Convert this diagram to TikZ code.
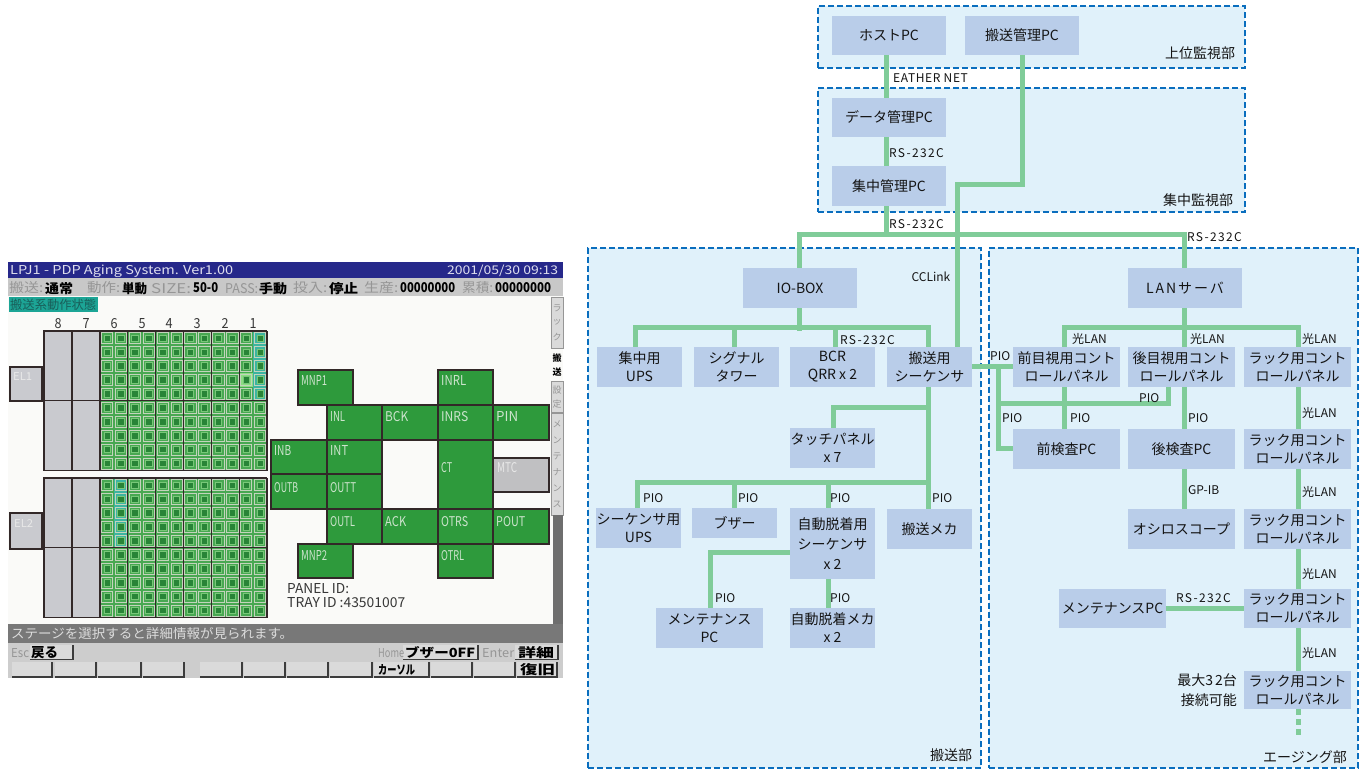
\documentclass[tikz,border=0pt]{standalone}
\usepackage{fontspec}
\usepackage{graphicx}
\setmainfont{Noto Sans CJK JP}
\setsansfont{Noto Sans CJK JP}
\newfontfamily\lsA[LetterSpace=11]{Noto Sans CJK JP}
\newfontfamily\lsB[LetterSpace=14]{Noto Sans CJK JP}
\newfontfamily\lsC[LetterSpace=5]{Noto Sans CJK JP}
\pgfdeclarelayer{back}
\pgfdeclarelayer{mid}
\pgfsetlayers{back,mid,main}
\definecolor{wirec}{RGB}{128,204,153}
\definecolor{boxc}{RGB}{185,205,233}
\definecolor{secf}{RGB}{224,241,250}
\definecolor{secb}{RGB}{10,110,190}
\definecolor{txtc}{RGB}{20,20,20}
\definecolor{navyc}{RGB}{38,40,138}
\definecolor{titc}{RGB}{222,222,238}
\definecolor{sbar}{RGB}{200,200,200}
\definecolor{lgray}{RGB}{150,150,150}
\definecolor{tealc}{RGB}{28,165,150}
\definecolor{tealt}{RGB}{25,95,90}
\definecolor{stg}{RGB}{46,154,60}
\definecolor{stt}{RGB}{205,228,205}
\definecolor{cellg}{RGB}{72,168,82}
\definecolor{celld}{RGB}{40,132,55}
\definecolor{cellhi}{RGB}{120,200,120}
\definecolor{cellln}{RGB}{195,212,188}
\definecolor{tealg}{RGB}{60,180,160}
\definecolor{brightg}{RGB}{140,220,130}
\definecolor{blkc}{RGB}{201,202,207}
\definecolor{edgec}{RGB}{50,40,40}
\definecolor{msgc}{RGB}{120,120,120}
\definecolor{msgt}{RGB}{220,220,220}
\definecolor{btnbg}{RGB}{205,205,205}
\definecolor{btnf}{RGB}{218,218,218}
\definecolor{btnd}{RGB}{60,60,60}
\definecolor{scrw}{RGB}{250,250,248}
\definecolor{elc}{RGB}{232,232,232}
\definecolor{idc}{RGB}{55,55,55}
\definecolor{mtcc}{RGB}{192,192,194}
\definecolor{darkst}{RGB}{110,110,110}
\newcommand\sctext[7]{\node[inner sep=0pt,anchor=base west,text=#6] (#7) at (#1,#2) {\resizebox{#3pt}{#4pt}{#5}};}
\tikzset{
  bx/.style={fill=boxc, inner sep=0pt, align=center, text=txtc, font=\fontsize{14}{18}\selectfont},
  sec/.style={draw=secb, fill=secf, line width=2pt, dash pattern=on 6pt off 3pt, inner sep=0pt},
  wire/.style={draw=wirec, line width=5pt, line cap=rect},
  lab/.style={inner sep=0pt, anchor=west, text=txtc, font=\fontsize{12}{14}\selectfont},
  seclab/.style={inner sep=0pt, text=txtc, font=\fontsize{14}{16}\selectfont},
  stn/.style={fill=stg, draw=edgec, line width=1.2pt},
  edgeln/.style={draw=edgec, line width=1.2pt},
  btnface/.style={fill=btnf, draw=none},
  btnsh/.style={draw=btnd, line width=1.2pt},
  strip/.style={inner sep=0pt, font=\fontsize{9}{9}\selectfont}
}
\begin{document}
\begin{tikzpicture}[x=1pt,y=-1pt]
\useasboundingbox (0,0) rectangle (1366,770);

% ---------------- sections
\begin{pgfonlayer}{back}
\fill[white] (0,0) rectangle (1366,770);
\node[sec, minimum width=427, minimum height=62] (secA) at (1031.5,37) {};
\node[sec, minimum width=427, minimum height=124] (secB) at (1031.5,150) {};
\node[sec, minimum width=393, minimum height=519] (secC) at (784.5,508) {};
\node[sec, minimum width=369, minimum height=519] (secD) at (1173.5,508) {};
\end{pgfonlayer}
\node[seclab] (secAl) at (1200,53) {上位監視部};
\node[seclab] (secBl) at (1198,200) {集中監視部};
\node[seclab] (secCl) at (951,755) {搬送部};
\node[seclab] (secDl) at (1305,757) {エージング部};

% ---------------- boxes
\node[bx, minimum width=114, minimum height=39] (host) at (889,35.5) {ホストPC};
\node[bx, minimum width=114, minimum height=39] (tpc) at (1022,35.5) {搬送管理PC};
\node[bx, minimum width=114, minimum height=39] (dpc) at (889,117.5) {データ管理PC};
\node[bx, minimum width=114, minimum height=40] (cpc) at (889,186) {集中管理PC};

\node[bx, minimum width=114, minimum height=40] (iobox) at (800,288) {IO-BOX};
\node[bx, minimum width=85, minimum height=40] (ups1) at (639.5,367) {集中用\\UPS};
\node[bx, minimum width=85, minimum height=40] (sig) at (736.5,367) {シグナル\\タワー};
\node[bx, minimum width=85, minimum height=40] (bcr) at (832.5,367) {BCR\\QRR x 2};
\node[bx, minimum width=85, minimum height=40] (seq) at (929.5,367) {搬送用\\シーケンサ};
\node[bx, minimum width=85, minimum height=40] (touch) at (832.5,448) {タッチパネル\\x 7};
\node[bx, minimum width=85, minimum height=40] (supsx) at (638.5,528) {シーケンサ用\\UPS};
\node[bx, minimum width=85, minimum height=30] (buzz) at (734.5,523) {ブザー};
\node[bx, minimum width=85, minimum height=71, font=\fontsize{14}{20}\selectfont] (adseq) at (832.5,543.5) {自動脱着用\\シーケンサ\\x 2};
\node[bx, minimum width=85, minimum height=40] (mecha) at (929.5,529) {搬送メカ};
\node[bx, minimum width=107, minimum height=40] (mpc1) at (709.5,628) {メンテナンス\\PC};
\node[bx, minimum width=85, minimum height=40] (admech) at (832.5,628) {自動脱着メカ\\x 2};

\node[bx, minimum width=114, minimum height=40] (lan) at (1185,288) {\lsB LANサーバ};
\node[bx, minimum width=107, minimum height=40] (fv) at (1066.5,367) {前目視用コント\\ロールパネル};
\node[bx, minimum width=107, minimum height=40] (rv) at (1181.5,367) {後目視用コント\\ロールパネル};
\node[bx, minimum width=107, minimum height=40] (r1) at (1297.5,367) {ラック用コント\\ロールパネル};
\node[bx, minimum width=107, minimum height=40] (fpc) at (1066.5,449) {前検査PC};
\node[bx, minimum width=107, minimum height=40] (rpc) at (1181.5,449) {後検査PC};
\node[bx, minimum width=107, minimum height=40] (r2) at (1297.5,449) {ラック用コント\\ロールパネル};
\node[bx, minimum width=107, minimum height=40] (osc) at (1181.5,529) {オシロスコープ};
\node[bx, minimum width=107, minimum height=40] (r3) at (1297.5,529) {ラック用コント\\ロールパネル};
\node[bx, minimum width=107, minimum height=39] (mpc2) at (1112.5,608.5) {メンテナンスPC};
\node[bx, minimum width=107, minimum height=39] (r4) at (1297.5,608.5) {ラック用コント\\ロールパネル};
\node[bx, minimum width=107, minimum height=38] (r5) at (1297.5,690) {ラック用コント\\ロールパネル};
\node[inner sep=0pt, anchor=east, align=right, text=txtc, font=\fontsize{14}{20}\selectfont] (maxn) at (1237,690) {最大{\lsB 32}台\\接続可能};

% ---------------- wires
\begin{pgfonlayer}{mid}
\draw[wire] ([xshift=-3pt]host.south) -- ([xshift=-3pt]dpc.north);
\draw[wire] ([xshift=-3pt]dpc.south) -- ([xshift=-3pt]cpc.north);
\coordinate (j1) at (886,235);
\draw[wire] ([xshift=-3pt]cpc.south) -- (j1);
\draw[wire] ([xshift=-1pt]iobox.north) |- (j1) -| ([xshift=-1pt]lan.north);
\coordinate (k1) at (957,185);
\draw[wire] (tpc.south) |- (k1) -- ([xshift=27.5pt]seq.north);
\draw[wire] ([xshift=-1pt]iobox.south) -- ++(0,20);
\draw[wire] ([xshift=-4.5pt]ups1.north) -- ++(0,-19) -| ([xshift=-1.5pt]seq.north);
\draw[wire] ([xshift=-2.5pt]sig.north) -- ++(0,-19);
\draw[wire] ([xshift=2.5pt]bcr.north) -- ++(0,-19);
\draw[wire] ([yshift=1pt]seq.east) -- ([yshift=1pt]fv.west);
\coordinate (p1) at (998,366);
\draw[wire] (p1) |- ([yshift=1pt]fpc.west);
\coordinate (p2) at (998,403);
\draw[wire] (p2) -| ([xshift=-13.5pt]rv.south);
\draw[wire] ([xshift=-2.5pt]fv.south) -- ([xshift=-2.5pt]fpc.north);
\draw[wire] ([xshift=-1pt]lan.south) -- ++(0,20);
\draw[wire] ([xshift=-2.5pt]fv.north) -- ++(0,-19) -| ([xshift=0.5pt]r1.north);
\draw[wire] ([xshift=2.5pt]rv.north) -- ++(0,-19);
\draw[wire] ([xshift=2.5pt]rv.south) -- ([xshift=2.5pt]rpc.north);
\draw[wire] ([xshift=2.5pt]rpc.south) -- ([xshift=2.5pt]osc.north);
\draw[wire] ([xshift=.5pt]r1.south) -- ([xshift=.5pt]r2.north);
\draw[wire] ([xshift=.5pt]r2.south) -- ([xshift=.5pt]r3.north);
\draw[wire] ([xshift=.5pt]r3.south) -- ([xshift=.5pt]r4.north);
\draw[wire] ([xshift=.5pt]r4.south) -- ([xshift=.5pt]r5.north);
\draw[wire] (mpc2.east) -- (r4.west);
\draw[wire, line cap=butt, dash pattern=on 6pt off 4pt] ([xshift=.5pt]r5.south) -- ++(0,29);
\draw[wire] ([xshift=-1.5pt]seq.south) -- ([xshift=-1.5pt]mecha.north);
\coordinate (s1) at (928,407);
\draw[wire] (s1) -| ([xshift=0.5pt]touch.north);
\draw[wire] ([xshift=-1.5pt]supsx.north) -- ++(0,-25) -| ([xshift=-1.5pt]mecha.north);
\draw[wire] ([xshift=-0.5pt]buzz.north) -- ++(0,-25);
\draw[wire] ([xshift=-4.5pt]adseq.north) -- ++(0,-25);
\draw[wire] ([yshift=-8.5pt]adseq.west) -| ([xshift=0.5pt]mpc1.north);
\draw[wire] ([xshift=-4.5pt]adseq.south) -- ([xshift=-4.5pt]admech.north);
\end{pgfonlayer}

% ---------------- wire labels
\node[lab] (lEN) at (893,78) {\lsC EATHER NET};
\node[lab] (lR1) at (889,153) {\lsA RS-232C};
\node[lab] (lR2) at (889,224) {\lsA RS-232C};
\node[lab] (lR3) at (1187,237) {\lsA RS-232C};
\node[lab, anchor=center] (lCC) at (931,277) {CCLink};
\node[lab] (lR4) at (840,340) {\lsA RS-232C};
\node[lab] (lP1) at (990,356) {PIO};
\node[lab] (lL1) at (1072,339) {光LAN};
\node[lab] (lL2) at (1190,339) {光LAN};
\node[lab] (lL3) at (1302,339) {光LAN};
\node[lab] (lP2) at (1002,418) {PIO};
\node[lab] (lP3) at (1070,418) {PIO};
\node[lab] (lP4) at (1188,418) {PIO};
\node[lab] (lP5) at (1139,398) {PIO};
\node[lab] (lL4) at (1302,413) {光LAN};
\node[lab] (lGP) at (1188,490) {GP-IB};
\node[lab] (lL5) at (1302,492) {光LAN};
\node[lab] (lL6) at (1302,574) {光LAN};
\node[lab] (lR5) at (1176,598) {\lsA RS-232C};
\node[lab] (lL7) at (1302,653) {光LAN};
\node[lab] (lP6) at (643,498) {PIO};
\node[lab] (lP7) at (738,498) {PIO};
\node[lab] (lP8) at (830,498) {PIO};
\node[lab] (lP9) at (932,498) {PIO};
\node[lab] (lP10) at (715,598) {PIO};
\node[lab] (lP11) at (830,598) {PIO};

% ================= screen =================
\fill[scrw] (8,296) rectangle (563,624);
\fill[navyc] (8,262) rectangle (563,278);
\fill[sbar] (8,278) rectangle (563,296);
\sctext{10}{274.5}{223}{9.5}{LPJ1 - PDP Aging System. Ver1.00}{titc}{tt1}
\sctext{447}{274.5}{111}{9.5}{2001/05/30 09:13}{titc}{tt2}
% status row
\sctext{9}{293}{34}{11}{搬送:}{lgray}{s1a}
\sctext{45}{293}{28}{11}{\bfseries 通常}{black}{s1b}
\sctext{87}{293}{33}{11}{動作:}{lgray}{s2a}
\sctext{122}{293}{25}{11}{\bfseries 単動}{black}{s2b}
\sctext{151}{293}{40}{10}{SIZE:}{lgray}{s3a}
\sctext{193}{293}{25}{10}{\bfseries 50-0}{black}{s3b}
\sctext{225}{293}{33}{10}{PASS:}{lgray}{s4a}
\sctext{259}{293}{28}{11}{\bfseries 手動}{black}{s4b}
\sctext{293}{293}{34}{11}{投入:}{lgray}{s5a}
\sctext{329}{293}{29}{11}{\bfseries 停止}{black}{s5b}
\sctext{364}{293}{34}{11}{生産:}{lgray}{s6a}
\sctext{400}{293}{55}{10}{\bfseries 00000000}{black}{s6b}
\sctext{462}{293}{31}{11}{累積:}{lgray}{s7a}
\sctext{495}{293}{56}{10}{\bfseries 00000000}{black}{s7b}
% teal label
\fill[tealc] (9,297) rectangle (98,312);
\sctext{10}{309.5}{86}{10.5}{搬送系動作状態}{tealt}{tl}
% column numbers
\foreach \c/\xc [count=\n] in {8/58,7/86,6/114,5/142,4/169,3/197,2/225,1/253}{
  \node[inner sep=0pt,anchor=base,text=idc] (cn\n) at (\xc,328) {\resizebox{7pt}{10pt}{\c}};
}
% EL boxes
\filldraw[fill=blkc,draw=edgec,line width=1.2pt] (10,367) rectangle (42,401);
\filldraw[fill=blkc,draw=edgec,line width=1.2pt] (10,513) rectangle (42,549);
\sctext{13}{380}{19}{8}{EL1}{elc}{el1}
\sctext{14}{527}{19}{8}{EL2}{elc}{el2}
% grid blocks
\foreach \yt in {331,478}{
  \fill[cellg] (100,\yt) rectangle (267,\yt+139.5);
  \filldraw[fill=blkc,draw=edgec,line width=1.2pt] (44,\yt) rectangle (72,\yt+139.5);
  \filldraw[fill=blkc,draw=edgec,line width=1.2pt] (72,\yt) rectangle (100,\yt+139.5);
}
\fill[tealg] (253.08,331) rectangle (267,400.75);
\fill[brightg] (239.17,372.85) rectangle (253.08,386.8);
\fill[tealg] (113.92,478) rectangle (127.83,547.75);
\foreach \yt in {331,478}{
  \foreach \i in {0,...,11}{
    \foreach \j in {0,...,9}{
      \pgfmathsetmacro\xa{100+\i*13.9167}
      \pgfmathsetmacro\ya{\yt+\j*13.95}
      \draw[cellln,line width=0.7pt] (\xa+1.3,\ya+1.3) rectangle ++(11.3,11.35);
      \filldraw[fill=celld,draw=cellhi,line width=0.5pt] (\xa+3.8,\ya+3.8) rectangle ++(6.3,6.3);
    }
  }
  \foreach \k in {0,...,6}{\draw[edgeln] (100+\k*27.833,\yt) -- ++(0,139.5);}
  \draw[edgeln] (44,\yt) -- (267,\yt);
  \draw[edgeln] (44,\yt+69.75) -- (267,\yt+69.75);
  \draw[edgeln] (44,\yt+139.5) -- (267,\yt+139.5);
}
% stations
\foreach \x/\y/\xx/\yy/\t/\w/\b [count=\n] in {
  298/370/353/405/MNP1/26/385, 438/370/493/405/INRL/25/385,
  327/405/382/440/INL/15/421, 382/405/438/440/BCK/23/421, 438/405/493/440/INRS/27/421, 493/405/549/440/PIN/22/421,
  271/440/327/474/INB/17/455, 327/440/382/474/INT/18/455, 438/440/493/509/CT/11/472,
  271/474/327/509/OUTB/24/492, 327/474/382/509/OUTT/26/492,
  327/509/382/544/OUTL/25/526, 382/509/438/544/ACK/21/526, 438/509/493/544/OTRS/27/526, 493/509/549/544/POUT/29/526,
  298/544/353/578/MNP2/26/560, 438/544/493/578/OTRL/23/560}{
  \filldraw[stn] (\x,\y) rectangle (\xx,\yy);
  \node[inner sep=0pt,anchor=base west,text=stt] (stl\n) at (\x+3,\b) {\resizebox{\w pt}{10pt}{\t}};
}
\filldraw[fill=mtcc,draw=edgec,line width=1.2pt] (493,458) rectangle (549,492);
\sctext{497}{472}{20}{10}{MTC}{elc}{mtc}
\sctext{287}{593}{62}{10}{PANEL ID:}{idc}{pid}
\sctext{287}{607}{118}{10}{TRAY ID :43501007}{idc}{tid}
% right strip
\filldraw[fill=btnf,draw=lgray,line width=0.8pt] (551,297) rectangle (563,348);
\filldraw[fill=btnf,draw=lgray,line width=0.8pt] (551,381) rectangle (563,412);
\filldraw[fill=btnf,draw=lgray,line width=0.8pt] (551,413) rectangle (563,515);
\fill[darkst] (553,515) rectangle (563,624);
\foreach \c/\yc [count=\n] in {ラ/308,ッ/322,ク/337,設/390,定/404,メ/424,ン/440,テ/456,ナ/472,ン/488,ス/504}{
  \node[strip,text=lgray] (rs\n) at (557,\yc) {\c};
}
\node[strip,text=black,font=\fontsize{9}{9}\selectfont\bfseries] (rb1) at (557,358) {搬};
\node[strip,text=black,font=\fontsize{9}{9}\selectfont\bfseries] (rb2) at (557,372) {送};
% message bar
\fill[msgc] (8,624) rectangle (563,643);
\sctext{11}{638}{282}{11}{ステージを選択すると詳細情報が見られます。}{msgt}{msg}
% button rows
\fill[btnbg] (8,643) rectangle (563,678);
\foreach \xa/\xb [count=\n] in {30/73,403/478,515/558}{
  \fill[btnface] (\xa,645) rectangle (\xb,659);
  \draw[btnsh] (\xb,645) -- (\xb,659.5) -- (\xa,659.5);
}
\sctext{11}{657}{18}{9}{Esc}{lgray}{b1a}
\sctext{31}{657}{27}{11}{\bfseries 戻る}{black}{b1b}
\sctext{378}{657}{26}{9}{Home}{lgray}{b2a}
\sctext{405}{657}{70}{11}{\bfseries ブザー0FF}{black}{b2b}
\sctext{482}{657}{32}{9}{Enter}{lgray}{b3a}
\sctext{518}{657}{36}{11}{\bfseries 詳細}{black}{b3b}
\foreach \xa/\xb [count=\n] in {11/53,54/97,97/142,142/185,199/243,243/286,286/329,329/373,373/430,430/473,473/516,516/558}{
  \fill[btnface] (\xa+1,662) rectangle (\xb-1,676.5);
  \draw[btnsh] (\xb-1,662) -- (\xb-1,677) -- (\xa+1,677);
}
\sctext{378}{674}{37}{10}{\bfseries カーソル}{black}{fk1}
\sctext{520}{674}{35}{11}{\bfseries 復旧}{black}{fk2}
\end{tikzpicture}
\end{document}
